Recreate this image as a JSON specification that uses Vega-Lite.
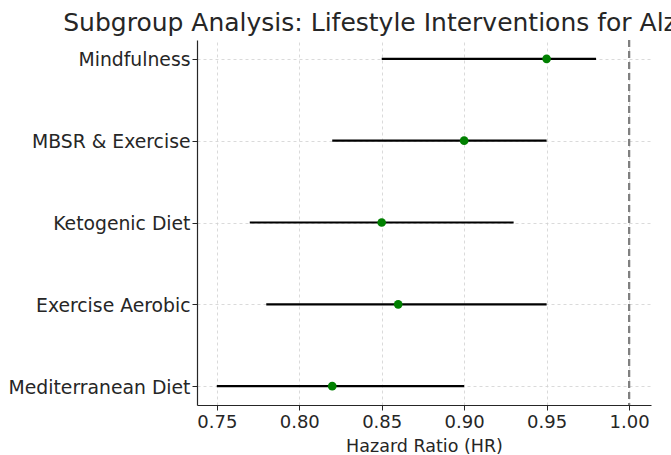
{
  "$schema": "https://vega.github.io/schema/vega-lite/v6.json",
  "width": 454,
  "height": 365,
  "autosize": {"type": "none"},
  "padding": {"left": 197, "top": 40, "right": 20, "bottom": 50},
  "title": {
    "text": "Subgroup Analysis: Lifestyle Interventions for Alzheimer's",
    "anchor": "middle",
    "frame": "group",
    "font": "DejaVu Sans",
    "fontSize": 25,
    "fontWeight": "normal",
    "color": "#262626",
    "offset": 3
  },
  "config": {
    "view": {"stroke": null},
    "font": "DejaVu Sans"
  },
  "data": {
    "values": [
      {"group": "Mindfulness", "hr": 0.95, "lo": 0.85, "hi": 0.98},
      {"group": "MBSR & Exercise", "hr": 0.90, "lo": 0.82, "hi": 0.95},
      {"group": "Ketogenic Diet", "hr": 0.85, "lo": 0.77, "hi": 0.93},
      {"group": "Exercise Aerobic", "hr": 0.86, "lo": 0.78, "hi": 0.95},
      {"group": "Mediterranean Diet", "hr": 0.82, "lo": 0.75, "hi": 0.90}
    ]
  },
  "encoding": {
    "y": {
      "field": "group",
      "type": "ordinal",
      "sort": null,
      "scale": {"type": "point", "padding": 0.23},
      "axis": {
        "title": null,
        "labelFont": "DejaVu Sans",
        "labelFontSize": 18.8,
        "labelLimit": 300,
        "labelColor": "#262626",
        "labelPadding": 2,
        "labelOffset": 1,
        "domainColor": "#262626",
        "domainWidth": 1.2,
        "tickColor": "#262626",
        "tickSize": 5,
        "grid": true,
        "gridColor": "#d0d0d0",
        "gridDash": [3, 3],
        "gridWidth": 0.8
      }
    }
  },
  "layer": [
    {
      "mark": {"type": "rule", "strokeWidth": 2.2, "color": "black"},
      "encoding": {
        "x": {
          "field": "lo",
          "type": "quantitative",
          "scale": {"domain": [0.738, 1.0133], "nice": false, "zero": false},
          "axis": {
            "title": "Hazard Ratio (HR)",
            "titleFont": "DejaVu Sans",
            "titleFontSize": 17.5,
            "titleFontWeight": "normal",
            "titleColor": "#262626",
            "titlePadding": 6,
            "values": [0.75, 0.8, 0.85, 0.9, 0.95, 1.0],
            "format": ".2f",
            "labelFont": "DejaVu Sans",
            "labelFontSize": 18,
            "labelColor": "#262626",
            "labelPadding": 3,
            "domainColor": "#262626",
            "domainWidth": 1.2,
            "tickColor": "#262626",
            "tickSize": 5,
            "grid": true,
            "gridColor": "#d0d0d0",
            "gridDash": [3, 3],
            "gridWidth": 0.8
          }
        },
        "x2": {"field": "hi"}
      }
    },
    {
      "mark": {"type": "point", "filled": true, "size": 75, "color": "#008000", "opacity": 1},
      "encoding": {
        "x": {"field": "hr", "type": "quantitative"}
      }
    },
    {
      "mark": {"type": "rule", "strokeWidth": 2, "color": "#808080", "strokeDash": [7, 4]},
      "encoding": {
        "x": {"datum": 1.0},
        "y": {"value": 0},
        "y2": {"value": 365}
      }
    }
  ]
}
